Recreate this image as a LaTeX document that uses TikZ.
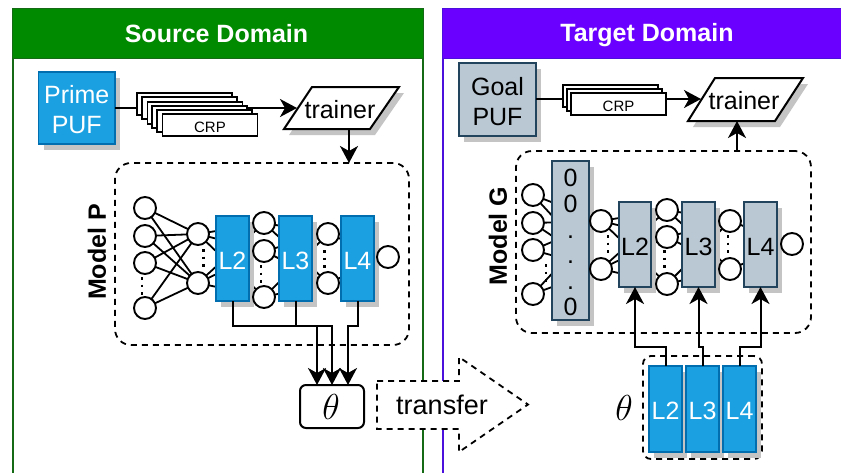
\documentclass[tikz,border=0pt]{standalone}
\usepackage{fontspec}
\setmainfont{Liberation Sans}
\usetikzlibrary{arrows.meta,shadows,calc}
\pgfdeclarelayer{edges}
\pgfsetlayers{edges,main}
\definecolor{sgreen}{HTML}{008A00}
\definecolor{sgreenline}{HTML}{156B15}
\definecolor{tviolet}{HTML}{6A00FF}
\definecolor{tvioletline}{HTML}{4B10DC}
\definecolor{lblue}{HTML}{1BA1E2}
\definecolor{lblueline}{HTML}{006EAF}
\definecolor{lgray}{HTML}{BAC8D3}
\definecolor{lgrayline}{HTML}{23445D}
\definecolor{shade}{HTML}{C4C4C4}
\newcommand{\fsz}[2]{\fontsize{#1}{#2}\selectfont}
\newcommand{\lowered}[1]{\raisebox{-2pt}[\height][\depth]{#1}}
% \boxat{style}{name}{x1}{y1}{x2}{y2}{text}
\newcommand{\boxat}[7]{%
  \pgfmathsetmacro\bxcx{(#3+#5)/2}\pgfmathsetmacro\bxcy{(#4+#6)/2}%
  \pgfmathsetmacro\bxw{#5-#3}\pgfmathsetmacro\bxh{#6-#4}%
  \node[#1,minimum width=\bxw pt,minimum height=\bxh pt] (#2) at (\bxcx,\bxcy) {#7};}
\tikzset{
  base/.style={inner sep=0pt,outer sep=0pt,align=center},
  casts/.style={general shadow={fill=shade,shadow xshift=5pt,shadow yshift=-6pt}},
  bluebox/.style={base,casts,draw=lblueline,fill=lblue,line width=1.6pt,text=white,font=\fsz{25}{30}},
  graybox/.style={base,casts,draw=lgrayline,fill=lgray,line width=1.6pt,text=black,font=\fsz{25}{30}},
  crpbox/.style={base,draw=black,fill=white,line width=1.8pt,font=\fsz{15}{16}},
  neuron/.style={base,circle,draw=black,fill=white,line width=1.9pt,minimum size=22pt},
  wire/.style={draw=black,line width=1.8pt},
  conn/.style={draw=black,line width=2pt},
  tip/.style={conn,-{Stealth[length=17pt,width=18pt,inset=5pt]}},
  dashline/.style={draw=black,line width=1.8pt,dash pattern=on 6pt off 5pt},
  dotrun/.style={draw=black,line width=2.4pt,dash pattern=on 2.5pt off 5pt},
  para/.style={draw=black,fill=white,line width=2pt},
  parashade/.style={fill=shade},
  header/.style={base,text=white,font=\bfseries\fsz{25}{30}},
  plain/.style={base,font=\fsz{25}{30}},
}
\begin{document}
\begin{tikzpicture}[x=1pt,y=-1pt]
\clip (0,0) rectangle (841,472);
\begin{pgfonlayer}{edges}
\fill[white] (0,0) rectangle (841,472);
\end{pgfonlayer}

% panels
\draw[sgreenline,line width=2pt] (12.5,8.5) rectangle (423,490);
\boxat{header,fill=sgreen,draw=sgreenline,line width=1pt}{srchead}{12.5}{8.5}{423}{58}{}
\node[header] (srctitle) at (216.5,34) {Source Domain};
\draw[tvioletline,line width=2pt] (442.5,8.5) rectangle (860,490);
\boxat{header,fill=tviolet,draw=tvioletline,line width=1pt}{tgthead}{442.5}{8.5}{860}{58}{}
\node[header] (tgttitle) at (647,35.5) {Target Domain};

% ---------- source domain ----------
\boxat{bluebox}{prime}{38.5}{72}{115}{144}{\rule{0pt}{22pt}Prime\\PUF}
\fill[parashade] (317,93) -- (404,93) -- (375,135) -- (289,135) -- cycle;
\coordinate (tr1a) at (312,87); \coordinate (tr1b) at (399,87);
\coordinate (tr1c) at (370,129); \coordinate (tr1d) at (284,129);
\draw[para] (tr1a) -- (tr1b) -- (tr1c) -- (tr1d) -- cycle;
\node[plain] (trainer1) at (340,110) {trainer};
\coordinate (tr1w) at (297,108);
\coordinate (tr1s) at (349,129);
\draw[tip] (prime.east) -- (tr1w);
\boxat{crpbox}{sc1}{137}{93}{232}{115}{}
\boxat{crpbox}{sc2}{142}{97}{237}{119}{}
\boxat{crpbox}{sc3}{147.5}{102}{242.5}{124}{}
\boxat{crpbox}{sc4}{152}{106}{247}{128}{}
\boxat{crpbox}{sc5}{157}{110}{252}{132}{}
\boxat{crpbox}{sc6}{162.5}{114}{257.5}{136}{\lowered{CRP}}

\boxat{base,dashline,rounded corners=16pt}{modelP}{115}{163}{409}{345}{}
\draw[tip] (tr1s) -- (tr1s |- modelP.north);
\node[base,rotate=90,font=\bfseries\fsz{25}{30}] (labP) at (97,252) {Model P};

\boxat{bluebox}{pL2}{216}{216}{249}{301}{\lowered{L2}}
\boxat{bluebox}{pL3}{279}{216}{312}{301}{\lowered{L3}}
\boxat{bluebox}{pL4}{341}{216}{374}{301}{\lowered{L4}}

\foreach \n/\x/\y in {pa1/145/208,pa2/145/236,pa3/145/263,pa4/145/308,
  pb1/198/234,pb2/198/283,
  pc1/264/223,pc2/264/251,pc3/264/297,
  pd1/328/234,pd2/328/283,
  pe1/388/257}
  \node[neuron] (\n) at (\x,\y) {};

\begin{pgfonlayer}{edges}
  \foreach \a in {pa1,pa2,pa3,pa4} \foreach \b in {pb1,pb2} \draw[wire] (\a) -- (\b);
  \foreach \a in {pb1,pb2} \foreach \b in {pc1,pc2,pc3} \draw[wire] (\a) -- (\b);
  \foreach \a in {pc1,pc2,pc3} \foreach \b in {pd1,pd2} \draw[wire] (\a) -- (\b);
  \foreach \a in {pd1,pd2} \draw[wire] (\a) -- (pe1);
\end{pgfonlayer}
\draw[dotrun] (142,277) -- (142,296);
\draw[dotrun] (203.5,249) -- (203.5,268);
\draw[dotrun] (261,265) -- (261,284);
\draw[dotrun] (324.5,250) -- (324.5,269);

\boxat{base,draw=black,fill=white,line width=2pt,rounded corners=6pt}{thetaP}{300}{385}{364}{428}{}
\node[base,scale=1.45] (thetaPtext) at (331,407) {\Huge$\theta$};
\coordinate (busP) at (0,326);
\coordinate (thL3) at ([xshift=-15pt]thetaP.north);
\coordinate (thL4) at ([xshift=16pt]thetaP.north);
\draw[tip] (pL2.south) |- (busP -| thetaP.north) -- (thetaP.north);
\draw[tip] (pL3.south) |- (busP -| thL3) -- (thL3);
\draw[tip] (pL4.south) |- (busP -| thL4) -- (thL4);

% ---------- transfer arrow ----------
\draw[dashline,fill=white] (377,381) -- (459,381) -- (459,357) -- (528,404.5) -- (459,452) -- (459,429) -- (377,429) -- cycle;
\node[base,font=\fsz{27}{30}] (transfer) at (442,405) {transfer};

% ---------- target domain ----------
\boxat{graybox}{goal}{459}{63}{536}{136}{\rule{0pt}{22pt}Goal\\PUF}
\fill[parashade] (720,84) -- (808,84) -- (780,127) -- (693,127) -- cycle;
\coordinate (tr2a) at (715,78); \coordinate (tr2b) at (803,78);
\coordinate (tr2c) at (775,121); \coordinate (tr2d) at (688,121);
\draw[para] (tr2a) -- (tr2b) -- (tr2c) -- (tr2d) -- cycle;
\node[plain] (trainer2) at (744,101) {trainer};
\coordinate (tr2w) at (701,99);
\coordinate (tr2s) at (737,121);
\draw[tip] (goal.east |- tr2w) -- (tr2w);
\boxat{crpbox}{tc1}{563}{85}{658}{107}{}
\boxat{crpbox}{tc2}{567}{89}{662}{111}{}
\boxat{crpbox}{tc3}{571}{93}{666}{115}{\lowered{CRP}}

\boxat{base,dashline,rounded corners=16pt}{modelG}{516}{151}{811}{333}{}
\draw[tip] (tr2s |- modelG.north) -- (tr2s);
\node[base,rotate=90,font=\bfseries\fsz{25}{30}] (labG) at (498,236) {Model G};

\boxat{graybox,font=\fsz{25}{25.7}}{zeros}{552}{161}{589}{320}{\rule{0pt}{21.5pt}0\\0\\.\\.\\.\\0}
\boxat{graybox}{gL2}{619}{202}{651}{287}{\lowered{L2}}
\boxat{graybox}{gL3}{682}{202}{715}{287}{\lowered{L3}}
\boxat{graybox}{gL4}{744}{202}{777}{287}{\lowered{L4}}

\foreach \n/\x/\y in {ga1/533/195,ga2/533/223,ga3/533/250,ga4/533/294,
  gb1/601/221,gb2/601/269,
  gc1/667/210,gc2/667/237,gc3/667/284,
  gd1/730/221,gd2/730/269,
  ge1/792/244}
  \node[neuron] (\n) at (\x,\y) {};

\begin{pgfonlayer}{edges}
  \foreach \a in {ga1,ga2,ga3,ga4} \foreach \b in {gb1,gb2} \draw[wire] (\a) -- (\b);
  \foreach \a in {gb1,gb2} \foreach \b in {gc1,gc2,gc3} \draw[wire] (\a) -- (\b);
  \foreach \a in {gc1,gc2,gc3} \foreach \b in {gd1,gd2} \draw[wire] (\a) -- (\b);
  \foreach \a in {gd1,gd2} \draw[wire] (\a) -- (ge1);
\end{pgfonlayer}
\draw[dotrun] (546,264) -- (546,283);
\draw[dotrun] (608,235) -- (608,254);
\draw[dotrun] (664.5,250) -- (664.5,269);
\draw[dotrun] (728,235) -- (728,254);

\boxat{base,dashline,rounded corners=8pt}{thetaG}{643}{356}{762}{459}{}
\boxat{bluebox}{tL2}{649}{366}{682}{452}{\lowered{L2}}
\boxat{bluebox}{tL3}{686}{366}{719}{452}{\lowered{L3}}
\boxat{bluebox}{tL4}{723}{366}{756}{452}{\lowered{L4}}
\node[base,scale=1.45] (thetaGtext) at (624,408) {\Huge$\theta$};
\coordinate (busG) at (0,347);
\draw[tip] (tL2.north) |- (busG -| gL2.south) -- (gL2.south);
\draw[tip] (tL3.north) |- (busG -| gL3.south) -- (gL3.south);
\draw[tip] (tL4.north) |- (busG -| gL4.south) -- (gL4.south);
\end{tikzpicture}
\end{document}
